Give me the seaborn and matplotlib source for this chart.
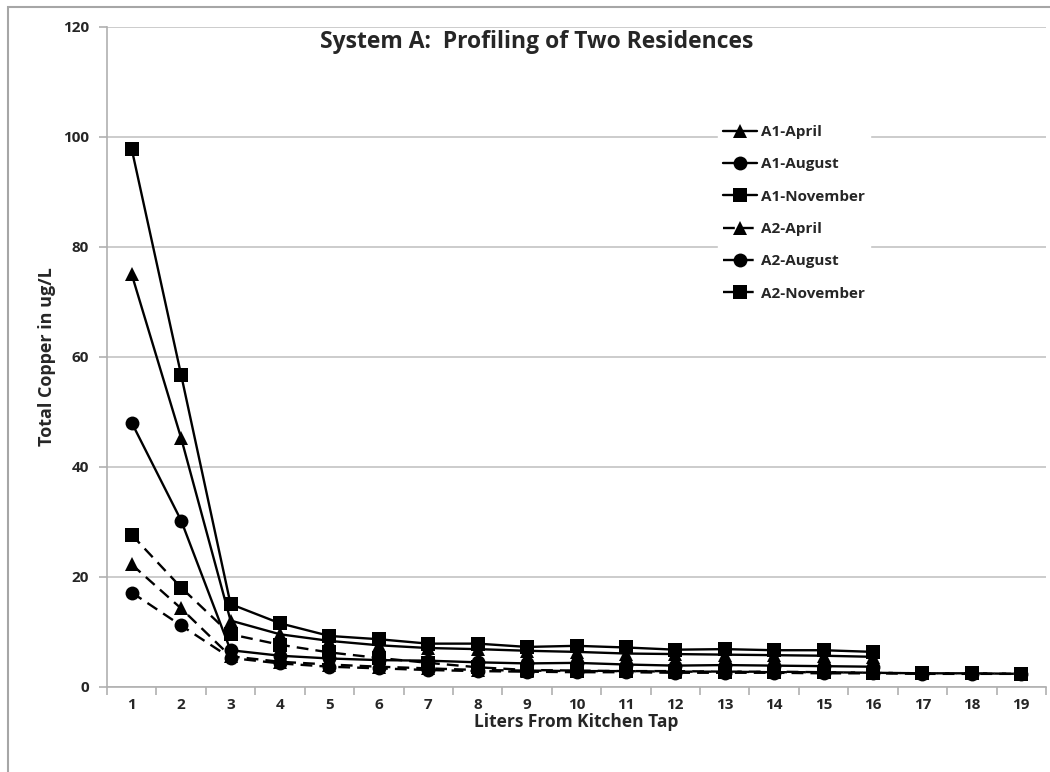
import numpy as np
import pandas as pd
import matplotlib
matplotlib.use("Agg")
import matplotlib.pyplot as plt
from matplotlib.patches import Rectangle
from matplotlib.ticker import MultipleLocator, FixedLocator
import seaborn as sns

# ---- data ----
liters = list(range(1, 20))
a1_april = [75.0, 45.2, 12.0, 9.5, 8.3, 7.5, 7.0, 6.8, 6.5, 6.3, 6.0, 5.9, 5.8, 5.7, 5.6, 5.4]
a1_august = [48.0, 30.2, 6.6, 5.6, 5.1, 4.8, 4.7, 4.4, 4.2, 4.3, 4.0, 3.8, 3.9, 3.8, 3.7, 3.6]
a1_november = [97.8, 56.7, 15.0, 11.5, 9.2, 8.6, 7.8, 7.8, 7.2, 7.4, 7.1, 6.7, 6.8, 6.6, 6.6, 6.3]
a2_april = [22.2, 14.2, 5.5, 4.5, 4.0, 3.6, 3.3, 3.0, 2.9, 2.8, 2.8, 2.7, 2.7, 2.6, 2.6, 2.5, 2.4, 2.4, 2.3]
a2_august = [17.1, 11.1, 5.2, 4.2, 3.6, 3.3, 3.0, 2.8, 2.7, 2.6, 2.6, 2.5, 2.5, 2.5, 2.4, 2.4, 2.3, 2.3, 2.3]
a2_november = [27.6, 18.0, 9.5, 7.6, 6.2, 5.2, 4.3, 3.5, 3.0, 2.9, 2.8, 2.8, 2.7, 2.7, 2.6, 2.5, 2.4, 2.4, 2.3]

series_names = ["A1-April", "A1-August", "A1-November", "A2-April", "A2-August", "A2-November"]
series_values = [a1_april, a1_august, a1_november, a2_april, a2_august, a2_november]

title = "System A:  Profiling of Two Residences"
xlabel = "Liters From Kitchen Tap"
ylabel = "Total Copper in ug/L"

rows = []
for name, vals in zip(series_names, series_values):
    for x, v in zip(liters, vals):
        rows.append({"liters": x, "copper": v, "series": name})
df = pd.DataFrame(rows)

# ---- style ----
sns.set_theme(style="white")
plt.rcParams["font.family"] = ["Open Sans", "DejaVu Sans"]
plt.rcParams["font.weight"] = "bold"

fig = plt.figure(figsize=(10.5, 7.72), dpi=100)
W, H = 1050, 772
ax = fig.add_axes([107 / W, (H - 686.5) / H, (1046 - 107) / W, (686.5 - 27) / H])

# outer chart frame
fig.patches.append(Rectangle((8 / W, -0.05), 1.1, (H - 7) / H + 0.05, transform=fig.transFigure,
                             fill=False, edgecolor="#a6a6a6", linewidth=1.5, zorder=0))

markers = {"A1-April": "^", "A1-August": "o", "A1-November": "s",
           "A2-April": "^", "A2-August": "o", "A2-November": "s"}
dashes = {"A1-April": "", "A1-August": "", "A1-November": "",
          "A2-April": (5, 3), "A2-August": (5, 3), "A2-November": (5, 3)}
palette = {n: "black" for n in series_names}

sns.lineplot(data=df, x="liters", y="copper", hue="series", style="series",
             hue_order=series_names, style_order=series_names,
             palette=palette, markers=markers, dashes=dashes,
             markersize=10, linewidth=1.7, markeredgewidth=0,
             ax=ax, legend=True, zorder=3)

ax.set_xlim(0.5, 19.5)
ax.set_ylim(0, 120)
ax.yaxis.set_major_locator(MultipleLocator(20))
ax.xaxis.set_major_locator(FixedLocator(liters))
ax.xaxis.set_minor_locator(FixedLocator(np.arange(0.5, 20, 1)))
ax.grid(axis="y", color="#c8c8c8", linewidth=1.3)
ax.set_axisbelow(True)

for s in ["top", "right"]:
    ax.spines[s].set_visible(False)
for s in ["left", "bottom"]:
    ax.spines[s].set_color("#b0b0b0")
    ax.spines[s].set_linewidth(1.2)

ax.tick_params(axis="x", which="major", length=0, pad=8, labelsize=11)
ax.tick_params(axis="x", which="minor", length=6, color="#b0b0b0", width=1.2, direction="out")
ax.tick_params(axis="y", which="major", length=6, color="#b0b0b0", width=1.2, direction="out",
               pad=7, labelsize=11)
ax.tick_params(axis="y", which="major", left=True)
ax.tick_params(axis="x", which="minor", bottom=True)
for lab in ax.get_xticklabels() + ax.get_yticklabels():
    lab.set_fontweight("bold")

ax.set_xlabel(xlabel, fontsize=12.5, fontweight="bold", labelpad=1)
ax.set_ylabel(ylabel, fontsize=13, fontweight="bold", labelpad=5)
ax.text(0.458, 0.977, title, transform=ax.transAxes, ha="center", va="center",
        fontsize=16.5, fontweight="bold")

handles, labels = ax.get_legend_handles_labels()
pairs = [(h, l) for h, l in zip(handles, labels) if l in series_names]
leg = ax.legend([p[0] for p in pairs], [p[1] for p in pairs],
                loc="upper left", bbox_to_anchor=(0.643, 0.87),
                frameon=True, framealpha=1.0, edgecolor="white", facecolor="white",
                fancybox=False, handlelength=2.2, handletextpad=0.3,
                labelspacing=1.2, borderpad=0.3,
                prop={"weight": "bold", "size": 11})
leg.set_zorder(5)

fig.savefig("out.png", dpi=100)
